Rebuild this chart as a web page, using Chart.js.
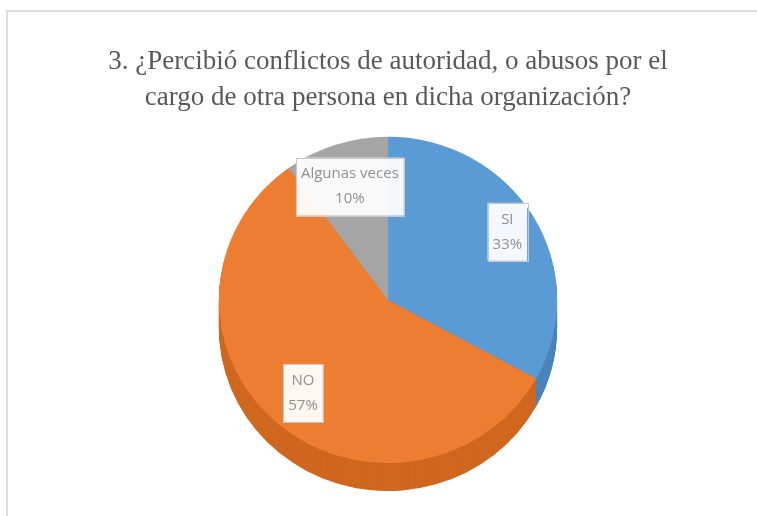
<!DOCTYPE html>
<html>
<head>
<meta charset="utf-8">
<script src="https://cdn.jsdelivr.net/npm/chart.js@4/dist/chart.umd.min.js"></script>
<style>
  html, body { margin: 0; padding: 0; background: #ffffff; }
  #wrap { position: relative; width: 757px; height: 516px; overflow: hidden; }
  #frame { position: absolute; left: 6px; top: 10px; width: 800px; height: 600px;
           border-left: 2px solid #dcdcdc; border-top: 2px solid #dcdcdc; pointer-events: none; }
  canvas { position: absolute; left: 0; top: 0; }
</style>
</head>
<body>
<div id="wrap">
  <canvas id="c" width="757" height="516"></canvas>
  <div id="frame"></div>
</div>
<script>
const titleLines = ['3. ¿Percibió conflictos de autoridad, o abusos por el', 'cargo de otra persona en dicha organización?'];
const categories = ['SI', 'NO', 'Algunas veces'];
const values = [33, 57, 10];
const percentLabels = ['33%', '57%', '10%'];
const topColors = ['#5B9BD5', '#ED7D31', '#A5A5A5'];
const sideColors = ['#4a84bb', '#d0671f', '#8c8c8c'];
const labelRadiusFrac = [0.82, 0.76, 0.73];

const SY = 0.965;     // vertical squash of the tilted pie
const DEPTH = 28;     // pie thickness in px

const pie3d = {
  id: 'pie3d',
  beforeDatasetsDraw(chart) {
    const ctx = chart.ctx;
    const meta = chart.getDatasetMeta(0);
    const a0 = meta.data[0];
    const cx = a0.x, cy = a0.y;
    ctx.save();
    ctx.translate(cx, cy); ctx.scale(1, SY); ctx.translate(-cx, -cy);
    for (let d = DEPTH; d >= 1; d--) {
      meta.data.forEach((arc, i) => {
        ctx.save();
        ctx.translate(0, d / SY);
        ctx.beginPath();
        ctx.moveTo(arc.x, arc.y);
        ctx.arc(arc.x, arc.y, arc.outerRadius, arc.startAngle, arc.endAngle);
        ctx.closePath();
        ctx.fillStyle = sideColors[i];
        ctx.fill();
        ctx.restore();
      });
    }
  },
  afterDatasetsDraw(chart) {
    const ctx = chart.ctx;
    ctx.restore();
    const meta = chart.getDatasetMeta(0);
    ctx.save();
    ctx.font = '15px "Open Sans"';
    ctx.textAlign = 'center';
    ctx.textBaseline = 'middle';
    meta.data.forEach((arc, i) => {
      const mid = (arc.startAngle + arc.endAngle) / 2;
      const r = arc.outerRadius * labelRadiusFrac[i];
      const x = arc.x + Math.cos(mid) * r;
      const y = arc.y + Math.sin(mid) * r * SY;
      const lines = [categories[i], percentLabels[i]];
      const w = Math.max(...lines.map(t => ctx.measureText(t).width)) + 10;
      const lh = 25;
      const h = lines.length * lh + 8;
      ctx.fillStyle = 'rgba(255,255,255,0.93)';
      ctx.fillRect(x - w / 2, y - h / 2, w, h);
      ctx.strokeStyle = '#c8c8c8';
      ctx.lineWidth = 1;
      ctx.strokeRect(Math.round(x - w / 2) + 0.5, Math.round(y - h / 2) + 0.5, Math.round(w), Math.round(h));
      ctx.fillStyle = '#909090';
      lines.forEach((t, k) => {
        ctx.fillText(t, x, y - h / 2 + 4 + lh * (k + 0.5));
      });
    });
    ctx.restore();
  }
};

new Chart(document.getElementById('c'), {
  type: 'pie',
  data: {
    labels: categories,
    datasets: [{
      data: values,
      backgroundColor: topColors,
      borderWidth: 0,
      clip: false
    }]
  },
  options: {
    responsive: false,
    animation: false,
    layout: { padding: { top: 0, left: 19, right: 0, bottom: 47 } },
    plugins: {
      legend: { display: false },
      tooltip: { enabled: false },
      title: {
        display: true,
        text: titleLines,
        color: '#595959',
        font: { family: '"Liberation Serif"', size: 27, weight: 'normal', lineHeight: 1.33 },
        padding: { top: 44, bottom: 15 }
      }
    }
  },
  plugins: [pie3d]
});
</script>
</body>
</html>
